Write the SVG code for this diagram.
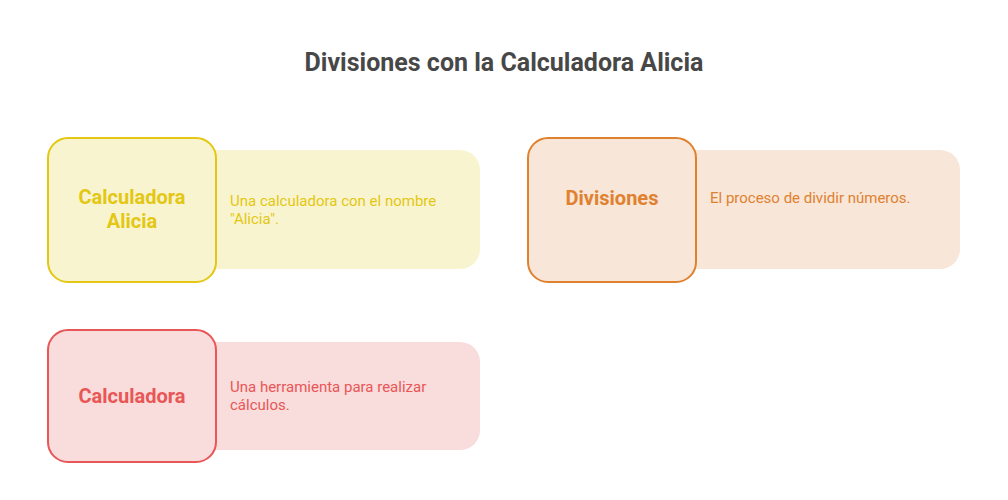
<svg xmlns="http://www.w3.org/2000/svg" width="1008" height="500" viewBox="0 0 1008 500">
<style>
.title{font-family:Roboto,"Liberation Sans",sans-serif;font-weight:700;font-size:25px;fill:#474747}
.name{font-family:Roboto,"Liberation Sans",sans-serif;font-weight:700;font-size:20px;text-anchor:middle}
.desc{font-family:Roboto,"Liberation Sans",sans-serif;font-size:15px}
.sq{stroke-width:2}
.y .bar,.y .sq{fill:#F9F4D0}.y .sq{stroke:#E3C712}.y text{fill:#E3C712}
.o .bar,.o .sq{fill:#F8E6D8}.o .sq{stroke:#E0812F}.o text{fill:#E0812F}
.r .bar,.r .sq{fill:#F9DCDC}.r .sq{stroke:#E85656}.r text{fill:#E85656}
</style>
<rect width="1008" height="500" fill="#fff"/>
<text class="title" x="504" y="71" text-anchor="middle">Divisiones con la Calculadora Alicia</text>
<g id="connectors"></g>
<g id="node-calculadora-alicia" class="y">
<rect class="bar" x="180" y="150" width="300" height="119" rx="20"/>
<rect class="sq" x="48" y="138" width="168" height="144" rx="20"/>
<text class="name" x="132" y="204">Calculadora</text>
<text class="name" x="132" y="228">Alicia</text>
<text class="desc" x="230" y="206">Una calculadora con el nombre</text>
<text class="desc" x="230" y="224">"Alicia".</text>
</g>
<g id="node-divisiones" class="o">
<rect class="bar" x="660" y="150" width="300" height="119" rx="20"/>
<rect class="sq" x="528" y="138" width="168" height="144" rx="20"/>
<text class="name" x="612" y="205">Divisiones</text>
<text class="desc" x="710" y="203">El proceso de dividir números.</text>
</g>
<g id="node-calculadora" class="r">
<rect class="bar" x="180" y="342" width="300" height="108" rx="20"/>
<rect class="sq" x="48" y="330" width="168" height="132" rx="20"/>
<text class="name" x="132" y="403">Calculadora</text>
<text class="desc" x="230" y="392">Una herramienta para realizar</text>
<text class="desc" x="230" y="410">cálculos.</text>
</g>
</svg>
